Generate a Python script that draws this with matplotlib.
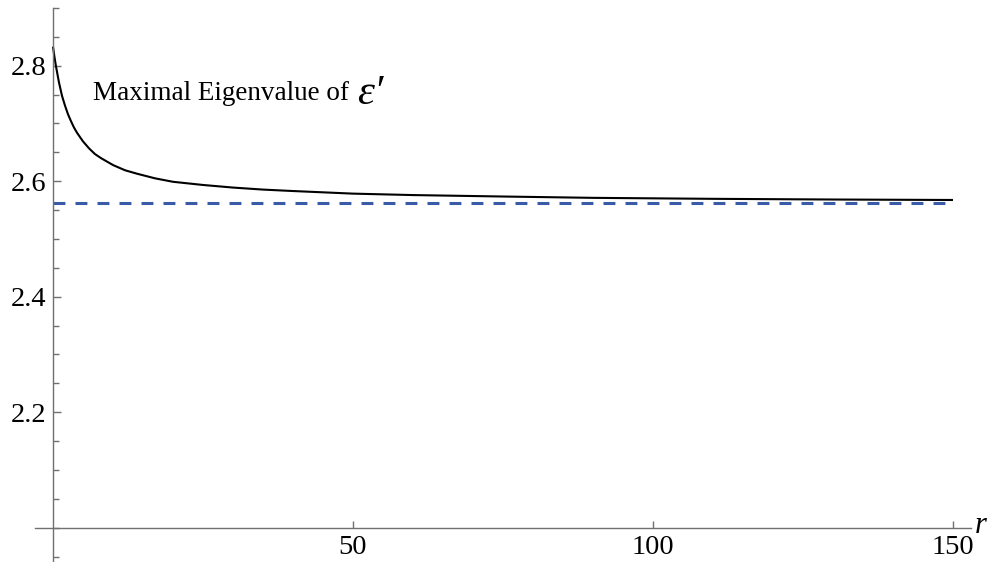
import numpy as np
import matplotlib
matplotlib.use("Agg")
import matplotlib.pyplot as plt
from matplotlib.ticker import FixedLocator

plt.rcParams['font.family'] = ['Liberation Serif', 'DejaVu Serif']

# values
r_vals = [0, 0.25, 0.5, 0.75, 1, 1.5, 2, 2.5, 3, 3.5, 4, 5, 6, 7, 8, 9, 10, 12, 14, 17,
          20, 25, 30, 35, 40, 50, 60, 75, 90, 110, 130, 150]
eig_vals = [2.833, 2.815, 2.799, 2.785, 2.771, 2.748, 2.731, 2.716, 2.704, 2.693, 2.684,
            2.669, 2.657, 2.647, 2.640, 2.634, 2.628, 2.619, 2.613, 2.605, 2.599, 2.5935,
            2.589, 2.5855, 2.583, 2.5785, 2.576, 2.5735, 2.5712, 2.5695, 2.5683, 2.5675]
limit_val = 2.5616
limit_r = [0, 150]

x_major = [50, 100, 150]
y_major = [2.2, 2.4, 2.6, 2.8]
y_minor = [1.95, 2.0, 2.05, 2.1, 2.15, 2.25, 2.3, 2.35, 2.45, 2.5, 2.55,
           2.65, 2.7, 2.75, 2.85, 2.9]

fig = plt.figure(figsize=(10.08, 5.62), dpi=100)
ax = fig.add_axes([0, 0, 1, 1])
ax.set_xlim(-8.83, 159.17)
ax.set_ylim(1.9406, 2.9138)

ax.plot(r_vals, eig_vals, color='black', lw=1.5, solid_capstyle='butt')
ax.plot(limit_r, [limit_val, limit_val], color='#3a5ca8', lw=2.2,
        dashes=(3.9, 3.3))

axcol = '#707070'
for s in ['top', 'right']:
    ax.spines[s].set_visible(False)
ax.spines['left'].set_position(('data', 0))
ax.spines['bottom'].set_position(('data', 2.0))
ax.spines['left'].set_bounds(1.9, 2.9)
ax.spines['bottom'].set_bounds(-3, 153)
for s in ['left', 'bottom']:
    ax.spines[s].set_color(axcol)
    ax.spines[s].set_linewidth(1.0)

ax.xaxis.set_major_locator(FixedLocator(x_major))
ax.yaxis.set_major_locator(FixedLocator(y_major))
ax.yaxis.set_minor_locator(FixedLocator(y_minor))
ax.set_xticklabels([str(v) for v in x_major])
ax.set_yticklabels(['%.1f' % v for v in y_major])
ax.tick_params(axis='both', which='both', direction='in', color=axcol,
               labelsize=20.5, labelcolor='black')
ax.tick_params(axis='y', which='major', length=6, width=1.0, pad=5)
ax.tick_params(axis='y', which='minor', length=4, width=1.0)
ax.tick_params(axis='x', which='major', length=5, width=1.0, pad=5)
ax.patch.set_alpha(0)

ax.text(153.6, 2.003, 'r', fontsize=22, style='italic', ha='left', va='center')
ax.text(6.67, 2.7406, 'Maximal Eigenvalue of', fontsize=19.5, ha='left',
        va='baseline')
ax.text(50.6, 2.7337, 'ε′', fontsize=31, style='italic', ha='left', va='baseline')

fig.savefig('out.png', dpi=100)
